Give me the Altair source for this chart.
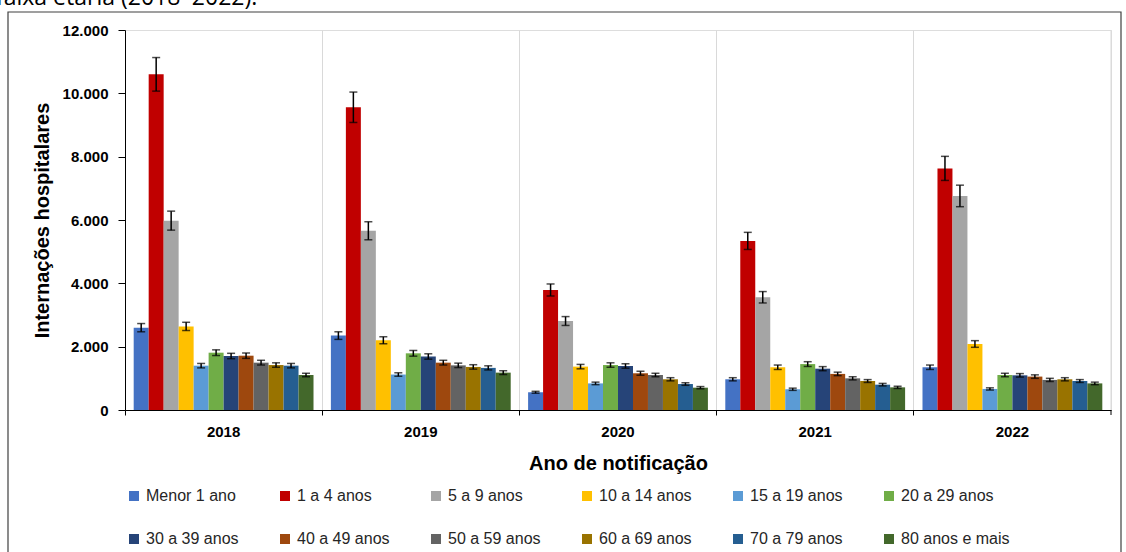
import altair as alt
import pandas as pd

years = ["2018", "2019", "2020", "2021", "2022"]
groups = ["Menor 1 ano", "1 a 4 anos", "5 a 9 anos", "10 a 14 anos", "15 a 19 anos",
          "20 a 29 anos", "30 a 39 anos", "40 a 49 anos", "50 a 59 anos",
          "60 a 69 anos", "70 a 79 anos", "80 anos e mais"]
colors = ["#4472C4", "#C00000", "#A5A5A5", "#FFC000", "#5B9BD5", "#70AD47",
          "#264478", "#9E480E", "#636363", "#997300", "#255E91", "#43682B"]

v2018 = [2600, 10600, 5980, 2640, 1400, 1810, 1705, 1715, 1495, 1420, 1400, 1105]
v2019 = [2350, 9560, 5660, 2200, 1120, 1790, 1690, 1495, 1410, 1360, 1330, 1180]
v2020 = [560, 3790, 2810, 1370, 840, 1420, 1390, 1160, 1105, 970, 820, 705]
v2021 = [970, 5340, 3560, 1350, 655, 1450, 1305, 1140, 1000, 915, 800, 715]
v2022 = [1350, 7630, 6760, 2085, 665, 1105, 1095, 1055, 950, 970, 915, 840]

e2018 = [130, 530, 300, 130, 70, 90, 85, 85, 75, 70, 70, 55]
e2019 = [120, 480, 285, 110, 55, 90, 85, 75, 70, 70, 65, 60]
e2020 = [30, 190, 140, 70, 40, 70, 70, 60, 55, 50, 40, 35]
e2021 = [50, 270, 180, 70, 35, 75, 65, 55, 50, 45, 40, 35]
e2022 = [70, 380, 340, 105, 35, 55, 55, 55, 50, 50, 45, 40]

y_ticks = [0, 2000, 4000, 6000, 8000, 10000, 12000]

values = [v2018, v2019, v2020, v2021, v2022]
errors = [e2018, e2019, e2020, e2021, e2022]

rows = []
for yr, vals, errs in zip(years, values, errors):
    for g, v, e in zip(groups, vals, errs):
        rows.append({"ano": yr, "faixa": g, "valor": v, "lo": v - e, "hi": v + e})
df = pd.DataFrame(rows)

W, H = 986, 380
FONT = "Liberation Sans"

x_enc = alt.X(
    "ano:N",
    sort=years,
    scale=alt.Scale(paddingInner=0, paddingOuter=0),
    axis=alt.Axis(
        title="Ano de notificação",
        labelAngle=0,
        labelFont=FONT, labelFontSize=15, labelFontWeight="bold", labelColor="black",
        labelPadding=9,
        titleFont=FONT, titleFontSize=20, titleFontWeight="bold", titleColor="black",
        titleX=W / 2, titleY=53, titleBaseline="middle",
        domainColor="black", domainWidth=1,
        tickColor="black", tickSize=5, tickWidth=1,
        bandPosition=0,
        grid=True, gridColor="#D9D9D9", gridWidth=1,
    ),
)
xoff = alt.XOffset("faixa:N", sort=groups,
                   scale=alt.Scale(paddingInner=0, paddingOuter=0.58))

y_scale = alt.Scale(domain=[0, 12000], nice=False)

bars = alt.Chart(df).mark_bar().encode(
    x=x_enc,
    xOffset=xoff,
    y=alt.Y(
        "valor:Q",
        scale=y_scale,
        axis=alt.Axis(
            title="Internações hospitalares",
            values=y_ticks,
            labelExpr="replace(format(datum.value, ','), ',', '.')",
            labelFont=FONT, labelFontSize=15, labelFontWeight="bold", labelColor="black",
            labelPadding=10,
            titleFont=FONT, titleFontSize=20, titleFontWeight="bold", titleColor="black",
            titleX=-83, titleY=H / 2, titleAngle=-90, titleBaseline="middle", titleAlign="center",
            domainColor="black", tickColor="black", tickSize=7,
            grid=False, zindex=1,
        ),
    ),
    color=alt.Color(
        "faixa:N",
        sort=groups,
        scale=alt.Scale(domain=groups, range=colors),
        legend=alt.Legend(
            title=None,
            orient="none",
            legendX=1,
            legendY=458,
            columns=6,
            direction="horizontal",
            gridAlign="all",
            columnPadding=22,
            rowPadding=27,
            symbolType="square",
            symbolSize=100,
            symbolStrokeWidth=0,
            labelFont=FONT,
            labelFontSize=16,
            labelColor="#262626",
            labelOffset=4,
            labelLimit=300,
        ),
    ),
)

err_rule = alt.Chart(df).mark_rule(color="black", strokeWidth=1.5).encode(
    x=alt.X("ano:N", sort=years),
    xOffset=alt.XOffset("faixa:N", sort=groups),
    y=alt.Y("lo:Q", scale=y_scale),
    y2="hi:Q",
)

caps = alt.Chart(df).transform_fold(["lo", "hi"], as_=["k", "v"]).mark_tick(
    color="black", thickness=1.5, size=8
).encode(
    x=alt.X("ano:N", sort=years),
    xOffset=alt.XOffset("faixa:N", sort=groups),
    y=alt.Y("v:Q", scale=y_scale),
)

one = pd.DataFrame({"a": [0]})
right_grid = alt.Chart(one).mark_rule(color="#D9D9D9", strokeWidth=1).encode(
    x=alt.value(W), y=alt.value(0), y2=alt.value(H)
)
right_tick = alt.Chart(one).mark_rule(color="black", strokeWidth=1).encode(
    x=alt.value(W), y=alt.value(H), y2=alt.value(H + 5)
)
frame = alt.Chart(one).mark_rect(fill=None, stroke="#404040", strokeWidth=1.2).encode(
    x=alt.value(-117), x2=alt.value(996), y=alt.value(-18), y2=alt.value(540)
)
caption = alt.Chart(one).mark_text(
    text="faixa etária (2018–2022).", align="left", baseline="alphabetic",
    font="Open Sans", fontSize=23, color="black"
).encode(x=alt.value(-129), y=alt.value(-25))

chart = alt.layer(frame, caption, right_grid, bars, err_rule, caps, right_tick).properties(
    width=W, height=H,
    autosize=alt.AutoSizeParams(type="none"),
    padding={"left": 125, "top": 30, "right": 15, "bottom": 142},
).configure_view(stroke=None).configure(background="white")

chart.save("out.html", embed_options={"renderer": "svg", "actions": False})
